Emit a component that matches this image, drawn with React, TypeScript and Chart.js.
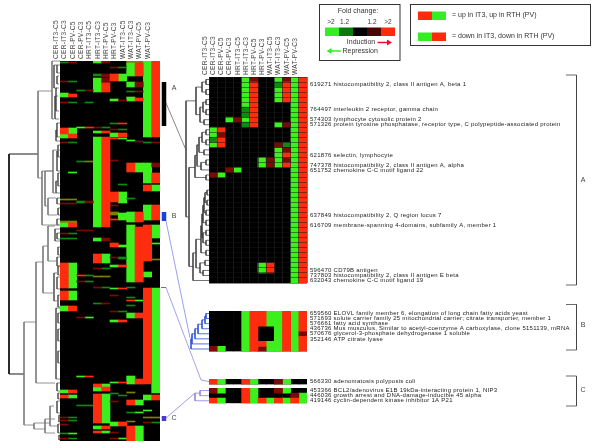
import React, { useEffect, useRef } from "react";
import { Chart, registerables } from "chart.js";

Chart.register(...registerables);

const FONT = "Liberation Sans";
const COLUMNS = ["CER-IT3-C5", "CER-IT3-C3", "CER-PV-C5", "CER-PV-C3", "HRT-IT3-C5", "HRT-IT3-C3", "HRT-PV-C5", "HRT-PV-C3", "WAT-IT3-C5", "WAT-IT3-C3", "WAT-PV-C5", "WAT-PV-C3"];

// Run = [first row, last row, level]; level 2/1 = induced, -1/-2 = repressed, 3 = mixed
type Run = number[];
const OVERVIEW_ROWS = 380;
const overviewRuns: Run[][] = [
  [[1,2,-1],[20,21,1],[32,36,-2],[41,42,1],[67,73,2],[73,77,-2],[81,82,1],[138,139,3],[142,143,1],[160,162,3],[162,166,-2],[172,173,1],[177,178,-1],[202,227,2],[230,239,2],[245,250,-2],[329,332,-2],[334,337,2],[356,357,1],[359,360,1],[363,364,1],[372,373,-1],[377,378,1]],
  [[1,2,1],[20,21,-1],[33,36,2],[41,42,-1],[67,73,-2],[73,77,2],[81,82,-1],[111,112,-2],[138,139,3],[142,143,1],[160,162,3],[162,166,2],[172,173,-1],[177,178,-1],[202,227,-2],[230,239,-2],[245,250,2],[329,332,2],[334,337,-2],[356,357,-1],[359,360,-1],[372,373,-2],[377,378,-1]],
  [[29,30,-1],[66,67,-2],[100,101,-1],[140,142,-1],[169,170,1],[214,215,2],[220,221,1],[256,257,1],[315,316,-2],[344,345,-1]],
  [[29,30,1],[41,42,-1],[66,67,2],[100,101,3],[140,142,1],[169,170,1],[214,215,-1],[220,221,-1],[256,257,-2],[315,316,2],[344,345,-1]],
  [[0,2,-2],[13,15,-1],[17,31,-2],[66,67,1],[70,72,-2],[76,166,-2],[177,180,-2],[193,202,2],[207,208,1],[215,216,3],[226,227,1],[242,243,-1],[323,326,2],[326,330,-2],[333,362,2],[365,368,-2],[370,372,2]],
  [[0,2,1],[13,16,1],[17,22,1],[22,31,2],[66,67,-1],[70,72,2],[76,166,2],[177,180,1],[193,202,-2],[207,208,-1],[215,216,3],[226,227,-1],[242,243,1],[323,326,-2],[326,330,2],[333,362,-2],[365,368,2],[370,372,-2]],
  [[6,7,1],[13,20,2],[38,40,-2],[62,63,-1],[68,69,1],[72,76,-2],[77,78,2],[99,100,1],[131,141,2],[144,145,1],[151,154,3],[158,159,2],[182,186,2],[196,197,1],[204,206,-2],[227,228,-2],[234,235,1],[250,251,1],[259,261,-2],[321,322,-2],[332,333,-1],[340,341,1],[361,365,-2],[371,372,1],[377,378,1]],
  [[6,7,-1],[13,20,-2],[39,40,1],[62,63,2],[68,69,-1],[72,76,2],[77,78,-2],[123,124,-1],[131,142,-2],[152,159,-2],[184,186,-2],[196,198,-1],[204,206,2],[227,228,2],[250,251,-1],[259,261,2],[321,322,2],[334,335,-1],[361,365,2],[377,378,-2]],
  [[0,2,3],[2,15,-2],[21,26,-2],[30,31,-1],[36,40,-2],[79,80,-2],[102,111,2],[137,138,-1],[151,161,-2],[164,221,-2],[226,227,-1],[236,237,-1],[239,240,2],[244,245,-1],[252,257,-2],[315,323,-2],[331,332,3],[339,344,2],[351,352,-1],[360,361,3],[365,380,2]],
  [[0,2,3],[2,15,2],[21,26,1],[30,31,1],[37,40,2],[80,81,1],[102,111,-2],[151,161,2],[166,221,2],[239,240,-2],[252,257,2],[318,323,2],[339,344,-2],[351,352,-2],[365,380,-2]],
  [[0,76,-2],[81,82,-1],[102,122,-2],[124,130,2],[144,159,-2],[164,200,2],[211,216,-2],[227,323,2],[334,339,-2],[349,350,-2],[356,357,3],[361,362,1]],
  [[0,76,2],[81,82,1],[102,106,1],[112,122,2],[124,130,-2],[144,159,2],[164,177,-2],[182,183,-2],[198,199,3],[227,332,-2],[334,339,2],[356,357,3],[361,362,-1]],
];

const CLUSTER_A_ROWS = 41;
const clusterARuns: Run[][] = [
  [[10,12,-2],[12,13,-1],[13,14,-2],[19,20,1]],
  [[10,11,2],[11,12,1],[12,14,2],[19,20,-2]],
  [[8,9,-2],[18,19,1]],
  [[8,9,1],[18,19,-2]],
  [[0,6,-2],[6,8,-1],[8,9,-2],[9,10,-1]],
  [[0,1,1],[1,10,2]],
  [[16,18,-2],[37,39,-2]],
  [[16,18,1],[37,39,2]],
  [[0,1,-2],[1,2,-1],[2,5,-2],[9,10,-2],[13,14,1],[14,18,-2]],
  [[0,1,1],[1,5,2],[9,10,1],[13,14,-1],[14,15,1],[15,16,2],[16,17,1],[17,18,2]],
  [[0,41,-2]],
  [[0,41,2]],
];
const clusterAGenes: [number, string][] = [
  [1, "619271 histocompatibility 2, class II antigen A, beta 1"],
  [6, "764497 interleukin 2 receptor, gamma chain"],
  [8, "574303 lymphocyte cytosolic protein 2"],
  [9, "571326 protein tyrosine phosphatase, receptor type, C polypeptide-associated protein"],
  [15, "621876 selectin, lymphocyte"],
  [17, "747378 histocompatibility 2, class II antigen A, alpha"],
  [18, "651752 chemokine C-C motif ligand 22"],
  [27, "637849 histocompatibility 2, Q region locus 7"],
  [29, "616709 membrane-spanning 4-domains, subfamily A, member 1"],
  [38, "596470 CD79B antigen"],
  [39, "737803 histocompatibility 2, class II antigen E beta"],
  [40, "632043 chemokine C-C motif ligand 19"],
];

const CLUSTER_B_ROWS = 8;
const clusterBRuns: Run[][] = [
  [[7,8,1]],
  [[7,8,-2]],
  [],
  [],
  [[0,8,-2]],
  [[0,8,2]],
  [[0,3,2],[6,7,2],[7,8,1]],
  [[0,3,-2],[6,8,-2]],
  [[0,8,-2]],
  [[0,8,2]],
  [[0,8,-2]],
  [[0,4,2],[4,5,1],[5,8,2]],
];
const clusterBGenes: [number, string][] = [
  [0, "659560 ELOVL family member 6, elongation of long chain fatty acids yeast"],
  [1, "571693 solute carrier family 25 mitochondrial carrier; citrate transporter, member 1"],
  [2, "576661 fatty acid synthase"],
  [3, "436736 Mus musculus, Similar to acetyl-coenzyme A carboxylase, clone 5151139, mRNA"],
  [4, "570676 glycerol-3-phosphate dehydrogenase 1 soluble"],
  [5, "352146 ATP citrate lyase"],
];

const clusterC1Runs: Run[][] = [
  [[0,1,2]],[[0,1,-2]],[],[],[[0,1,2]],[[0,1,-2]],[],[],[[0,1,1]],[[0,1,-2]],[],[],
];
const clusterC1Genes: [number, string][] = [[0, "566330 adenomatosis polyposis coli"]];

const clusterC2Runs: Run[][] = [
  [[0,1,1],[2,3,2]],
  [[0,1,-2],[2,3,-2]],
  [],
  [],
  [[0,3,2]],
  [[0,3,-2]],
  [[2,3,2]],
  [[2,3,-2]],
  [[0,1,1],[2,3,2]],
  [[0,1,-2],[2,3,-2]],
  [[1,2,1],[2,3,2]],
  [[1,3,-2]],
];
const clusterC2Genes: [number, string][] = [
  [0, "453366 BCL2/adenovirus E1B 19kDa-interacting protein 1, NIP3"],
  [1, "446036 growth arrest and DNA-damage-inducible 45 alpha"],
  [2, "419146 cyclin-dependent kinase inhibitor 1A P21"],
];

// Dendrogram merge = [height, row a, row b, child height a, child height b]
const overviewTreeMain = [
  [22,30,117,8,18],[36,261,364,24,26],[24,201,322,17,5],[18,110,164,7,1],[17,185,232,12,6],[12,165,200,5,3],[26,362,368,10,15],[10,345,365,6,3],[15,358,372,5,5],
  [8,0,58,0,6],[7,89,132,0,4],[12,137,154,4,3],[15,110,145,7,12],
];
const overviewTreeRoot = [[51,93,313,22,36]];
const overviewTreeLeaves = [
  [6,4,27,3,3],[3,4,12,0,0],[3,15,23,1,1],[4,27,50,1,1],[5,35,58,2,1],[3,62,76,0,0],[4,69,80,3,0],[2,84,96,0,0],[3,90,110,2,0],[2,112,125,0,0],[4,120,132,2,0],
  [3,137,143,0,0],[2,147,154,0,0],[3,158,164,0,0],[5,168,180,0,0],[3,172,178,0,0],[2,186,194,0,0],[3,196,205,0,0],[2,205,214,0,0],[3,216,228,0,0],[6,212,240,3,3],[2,234,246,0,0],
  [4,247,318,0,0],[2,252,262,0,0],[2,268,280,0,0],[2,290,302,0,0],[3,322,330,0,0],[2,332,338,0,0],[3,340,352,0,0],[1,354,361,0,0],[2,363,372,0,0],[1,374,379,0,0],
];
const clusterATree = [
  [3,0.5,1.5,0,0],[3,2.5,3.5,0,0],[7,1,3,3,3],[3,4.5,5.5,0,0],[3,6.5,7.5,0,0],[6,5,7,3,3],[5,8.5,9.5,0,0],[9,6,9,6,5],[13,2,7.5,7,9],
  [3,10.5,11.5,0,0],[3,12.5,13.5,0,0],[7,11,13,3,3],[5,14.5,15.5,0,0],[10,12,15,7,5],[3,16.5,17.5,0,0],[8,17,18.5,3,0],[12,13.5,17.75,10,8],[3,19.5,20.5,0,0],[14,15.6,20,12,3],
  [2,22.5,23.5,0,0],[2,24.5,25.5,0,0],[3,26.5,27.5,0,0],[3,28.5,29.5,0,0],[3,30.5,31.5,0,0],[3,32.5,33.5,0,0],[3,34.5,35.5,0,0],[4,23,25,2,2],[5,24,27,4,3],[6,25.5,29,5,3],[6,31,33,3,3],[7,27.25,32,6,6],[8,29.6,35,7,3],
  [4,36.5,37.5,0,0],[6,38.5,39.5,0,0],[9,37,39,4,6],[13,32.3,38,8,9],[16,35,40.5,13,0],[20,18,37.7,14,16],[23,4.75,27.85,13,20],
];
const clusterBTree = [[3,0.5,1.5,0,0],[4,1,2.5,3,0],[7,1.75,3.5,4,0],[11,2.6,4.5,7,0],[14,3.5,5.5,11,0],[17,4.5,6.5,14,0],[18,5.5,7.5,17,0]];
const clusterCTree = [[9,0.5,1.5,0,0],[14,1,2.5,9,0]];

const foldScale = ["#33ee22", "#0a7a0a", "#000000", "#4a0505", "#ff2a0a"];
const foldLabels = [">2", "1.2", "1.2", ">2"];

const levelColors: Record<string, string> = { "2": "#ff2d0e", "1": "#7a0a05", "-1": "#0d8a10", "-2": "#3cf01e", "3": "#808000" };

const area = (left: number, top: number, right: number, bottom: number) => ({
  left, top, right: 600 - right, bottom: 448 - bottom,
});

const spacedLabels = {
  id: "spacedLabels",
  beforeDraw(chart: any) { chart.ctx.letterSpacing = "0.27px"; },
};

function heatmap(canvas: HTMLCanvasElement, runs: Run[][], rows: number, box: any, genes: [number, string][], showColumns: boolean, gridLines: boolean) {
  const datasets: any[] = ["2", "1", "-1", "-2", "3"].map((lv) => ({
    backgroundColor: levelColors[lv],
    data: runs.flatMap((col, i) => col.filter((r) => String(r[2]) === lv).map((r) => ({ x: COLUMNS[i], y: [r[0], r[1]] }))),
  }));
  datasets.push({ backgroundColor: "#000000", data: COLUMNS.map((c) => ({ x: c, y: [0, rows] })) });
  const fix = (s: any, key: string, size: number) => {
    s[key] = size;
    s.paddingLeft = s.paddingRight = s.paddingTop = s.paddingBottom = 0;
  };
  const scales: any = {
    x: {
      type: "category", position: "top", offset: true,
      afterFit: (s: any) => fix(s, "height", box.top),
      border: { display: false },
      grid: { display: gridLines, color: "#222222", z: 1, drawTicks: false, offset: true, lineWidth: 0.6 },
      ticks: { display: showColumns, autoSkip: false, minRotation: 90, maxRotation: 90, padding: 2, color: "#444", font: { family: FONT, size: 6.6 } },
    },
    y: {
      type: "linear", position: "right", reverse: true, min: 0, max: rows,
      afterFit: (s: any) => fix(s, "width", box.right),
      afterBuildTicks: (s: any) => { s.ticks = genes.map((g) => ({ value: g[0] + 0.5 })); },
      border: { display: false },
      grid: { display: false, drawTicks: false },
      ticks: {
        display: genes.length > 0, autoSkip: false, padding: 3, color: "#222", font: { family: FONT, size: 6 },
        callback: (v: any) => { const g = genes.find((e) => e[0] + 0.5 === v); return g ? g[1] : ""; },
      },
    },
  };
  if (gridLines) {
    scales.rowLines = {
      type: "linear", position: "left", reverse: true, min: 0, max: rows,
      afterFit: (s: any) => fix(s, "width", 0),
      border: { display: false },
      grid: { color: "#161616", z: 1, drawTicks: false, lineWidth: 0.5 },
      ticks: { display: false, stepSize: 1, autoSkip: false },
    };
  }
  return new Chart(canvas, {
    type: "bar",
    data: { labels: COLUMNS, datasets },
    options: {
      animation: false, responsive: false, events: [],
      layout: { padding: { left: box.left, top: 0, right: 0, bottom: box.bottom } },
      plugins: { legend: { display: false }, tooltip: { enabled: false } },
      datasets: { bar: { grouped: false, barPercentage: 1, categoryPercentage: 1, borderWidth: 0 } },
      scales,
    } as any,
    plugins: [spacedLabels],
  });
}

function treePoints(merges: number[][]) {
  return merges.flatMap(([h, a, b, ha, hb]) => [
    { x: ha, y: a }, { x: h, y: a }, { x: h, y: b }, { x: hb, y: b }, { x: NaN, y: NaN },
  ]);
}

function dendrogram(canvas: HTMLCanvasElement, sets: { merges: number[][]; color: string; width: number }[], rows: number, maxH: number, box: any) {
  return new Chart(canvas, {
    type: "scatter",
    data: {
      datasets: sets.map((s) => ({
        data: treePoints(s.merges), showLine: true, spanGaps: false, pointRadius: 0,
        borderColor: s.color, borderWidth: s.width, clip: false,
      })),
    },
    options: {
      animation: false, responsive: false, events: [],
      layout: { padding: box },
      plugins: { legend: { display: false }, tooltip: { enabled: false } },
      scales: {
        x: { type: "linear", display: false, reverse: true, min: 0, max: maxH },
        y: { type: "linear", display: false, reverse: true, min: 0, max: rows },
      },
    } as any,
  });
}

const link = (pts: number[][], color: string, width: number) => ({
  data: pts.map(([x, y]) => ({ x, y })), showLine: true, pointRadius: 0, borderColor: color, borderWidth: width, clip: false,
});

const annotations = {
  id: "annotations",
  afterDraw(chart: any) {
    const c: CanvasRenderingContext2D = chart.ctx;
    c.save();
    const text = (s: string, x: number, y: number, size: number, align: CanvasTextAlign = "left", color = "#333") => {
      c.font = `${size}px ${FONT}`; c.fillStyle = color; c.textAlign = align; c.textBaseline = "middle"; c.fillText(s, x, y);
    };
    const frame = (x: number, y: number, w: number, h: number) => {
      c.strokeStyle = "#333"; c.lineWidth = 1; c.strokeRect(x, y, w, h);
    };
    const arrow = (x1: number, x2: number, y: number, color: string) => {
      const dir = Math.sign(x2 - x1);
      c.strokeStyle = color; c.fillStyle = color; c.lineWidth = 1.5;
      c.beginPath(); c.moveTo(x1, y); c.lineTo(x2 - dir * 3, y); c.stroke();
      c.beginPath(); c.moveTo(x2, y); c.lineTo(x2 - dir * 5, y - 3); c.lineTo(x2 - dir * 5, y + 3); c.closePath(); c.fill();
    };
    frame(319.5, 4.5, 80.5, 56);
    text("Fold change:", 358, 11, 7, "center");
    foldLabels.forEach((l, i) => text(l, [331, 344.5, 372, 388][i], 22.7, 6.5, "center"));
    foldScale.forEach((col, i) => { c.fillStyle = col; c.fillRect(325 + i * 14, 27.5, 14, 8.5); });
    text("Induction", 361, 42.5, 7, "center");
    arrow(377.5, 392, 42.5, "#e8102a");
    arrow(341, 326.5, 51, "#33ee22");
    text("Repression", 342.5, 51, 7);
    frame(410.5, 4.5, 180, 41);
    c.fillStyle = foldScale[4]; c.fillRect(418, 11.5, 14, 8.5);
    c.fillStyle = foldScale[0]; c.fillRect(432, 11.5, 14, 8.5);
    c.fillStyle = foldScale[0]; c.fillRect(418, 32.5, 14, 8.5);
    c.fillStyle = foldScale[4]; c.fillRect(432, 32.5, 14, 8.5);
    text("= up in IT3, up in RTH (PV)", 452, 15.5, 7);
    text("= down in IT3, down in RTH (PV)", 452, 36.5, 7);
    text("A", 174, 88.5, 7, "center", "#444");
    text("B", 174, 216, 7, "center", "#444");
    text("C", 174, 418, 7, "center", "#444");
    text("A", 583, 180, 7, "center", "#444");
    text("B", 583, 325, 7, "center", "#444");
    text("C", 583, 390, 7, "center", "#444");
    c.restore();
  },
};

function overlay(canvas: HTMLCanvasElement) {
  return new Chart(canvas, {
    type: "scatter",
    data: {
      datasets: [
        link([[164, 82], [164, 126]], "#000000", 4.5),
        link([[164, 212], [164, 221]], "#1a3ee8", 4.5),
        link([[161, 287.5], [166, 287.5]], "#6a60d8", 1),
        link([[164, 416], [164, 421]], "#4a38d8", 4.5),
        link([[166, 103], [186, 150]], "#555", 0.7),
        link([[166, 221], [190, 338]], "#7a8ae8", 0.8),
        link([[166, 287.5], [201, 380], [209, 381.6]], "#8a8ae8", 0.8),
        link([[166, 418], [195, 393]], "#8a80e8", 0.8),
        link([[566, 75], [576.5, 75], [576.5, 285], [566, 285]], "#444", 0.8),
        link([[566, 304.5], [576.5, 304.5], [576.5, 350], [566, 350]], "#444", 0.8),
        link([[566, 376], [576.5, 376], [576.5, 406], [566, 406]], "#444", 0.8),
      ],
    },
    options: {
      animation: false, responsive: false, events: [],
      plugins: { legend: { display: false }, tooltip: { enabled: false } },
      scales: {
        x: { type: "linear", display: false, min: 0, max: 600 },
        y: { type: "linear", display: false, reverse: true, min: 0, max: 448 },
      },
    } as any,
    plugins: [annotations],
  });
}

export default function App() {
  const host = useRef<HTMLDivElement>(null);
  useEffect(() => {
    document.body.style.margin = "0";
    const root = host.current!;
    const canvas = () => {
      const el = document.createElement("canvas");
      el.width = 600; el.height = 448;
      el.style.cssText = "position:absolute;left:0;top:0;width:600px;height:448px";
      root.appendChild(el);
      return el;
    };
    const charts = [
      heatmap(canvas(), overviewRuns, OVERVIEW_ROWS, area(60, 61, 160, 441), [], true, false),
      heatmap(canvas(), clusterARuns, CLUSTER_A_ROWS, area(209, 77, 307, 283), clusterAGenes, true, true),
      heatmap(canvas(), clusterBRuns, CLUSTER_B_ROWS, area(209, 311, 307, 351.5), clusterBGenes, false, false),
      heatmap(canvas(), clusterC1Runs, 1, area(209, 379, 307, 384.5), clusterC1Genes, false, false),
      heatmap(canvas(), clusterC2Runs, 3, area(209, 388, 307, 403.3), clusterC2Genes, false, false),
      dendrogram(canvas(), [
        { merges: overviewTreeMain, color: "#777", width: 0.8 },
        { merges: overviewTreeLeaves, color: "#333", width: 0.6 },
        { merges: overviewTreeRoot, color: "#000", width: 0.9 },
      ], OVERVIEW_ROWS, 60, area(0, 61, 60, 441)),
      dendrogram(canvas(), [{ merges: clusterATree, color: "#333", width: 0.7 }], CLUSTER_A_ROWS, 24, area(185, 77, 209, 283)),
      dendrogram(canvas(), [{ merges: clusterBTree, color: "#2a4fd8", width: 0.8 }], CLUSTER_B_ROWS, 24, area(185, 311, 209, 351.5)),
      dendrogram(canvas(), [{ merges: clusterCTree, color: "#8a80e8", width: 0.8 }], 3, 24, area(185, 388, 209, 403.3)),
      overlay(canvas()),
    ];
    return () => {
      charts.forEach((c) => c.destroy());
      root.innerHTML = "";
    };
  }, []);
  return <div ref={host} style={{ position: "absolute", left: 0, top: 0, width: 600, height: 448, background: "#fff" }} />;
}
